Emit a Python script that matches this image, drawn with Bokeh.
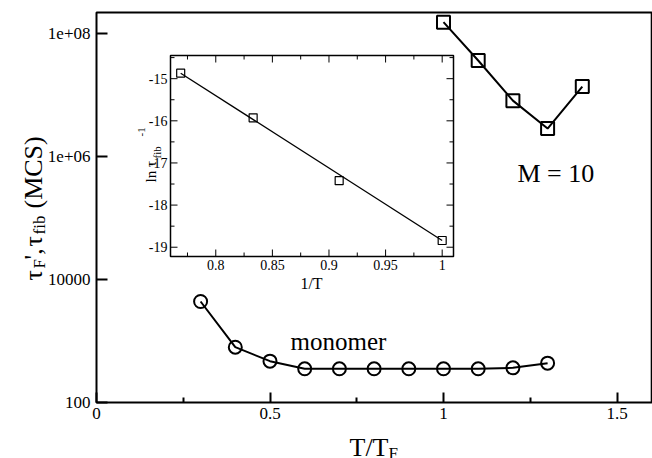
import numpy as np
from bokeh.plotting import figure
from bokeh.models import Range1d, FixedTicker, Label, LinearScale
from bokeh.core.properties import value
from bokeh.embed import file_html
from bokeh.resources import INLINE

# ---------------- data ----------------
temp_monomer = [0.3, 0.4, 0.5, 0.6, 0.7, 0.8, 0.9, 1.0, 1.1, 1.2, 1.3]
tau_monomer = [4390, 793, 470, 353, 353, 353, 353, 353, 353, 366, 436]

temp_m10 = [1.0, 1.1, 1.2, 1.3, 1.4]
tau_m10 = [1.53e8, 3.64e7, 8.1e6, 2.85e6, 1.37e7]

inv_T = [0.769, 0.833, 0.909, 1.0]
ln_inv_tau = [-14.87, -15.93, -17.42, -18.84]
fit_inv_T = [0.769, 1.0]
fit_ln_inv_tau = [-14.87, -18.84]

x_ticks = [0, 0.5, 1, 1.5]
x_tick_labels = ["0", "0.5", "1", "1.5"]
x_minor_ticks = [0.25, 0.75, 1.25]
y_ticks = [1e2, 1e4, 1e6, 1e8]
y_tick_labels = ["100", "10000", "1e+06", "1e+08"]

inset_x_ticks = [0.8, 0.85, 0.9, 0.95, 1.0]
inset_x_labels = ["0.8", "0.85", "0.9", "0.95", "1"]
inset_x_minor = [0.775, 0.825, 0.875, 0.925, 0.975]
inset_y_ticks = [-15, -16, -17, -18, -19]
inset_y_labels = ["-15", "-16", "-17", "-18", "-19"]
inset_y_minor = [-14.5, -15.5, -16.5, -17.5, -18.5]

# ---------------- geometry (canvas px) ----------------
W, H = 652, 458
PX0, PXU = 96.0, 347.0        # x=0 position, px per unit
PY100, PYD = 402.0, 61.5      # y=100 position, px per decade
box_x = (0.0, 1.6)
box_y = (100.0, 2.19e8)
IL, IR, IT, IB = 170, 453, 55, 256       # inset box
ix0, ix1 = 0.76, 1.01
iy0, iy1 = -19.22, -14.45
FONT = "Liberation Serif"

x_lo = -PX0 / PXU
x_hi = (W - PX0) / PXU
y_hi = 10 ** (2 + PY100 / PYD)
y_lo = 10 ** (2 - (H - PY100) / PYD)

p = figure(width=W, height=H, x_range=Range1d(x_lo, x_hi), y_range=Range1d(y_lo, y_hi),
           y_axis_type="log", output_backend="svg", toolbar_location=None,
           min_border=0, background_fill_color="white", border_fill_color="white")
p.xgrid.visible = False
p.ygrid.visible = False
p.outline_line_color = None

xa = p.xaxis[0]
xa.fixed_location = box_y[0]
xa.ticker = FixedTicker(ticks=x_ticks, minor_ticks=x_minor_ticks)
xa.major_label_overrides = {float(t): l for t, l in zip(x_ticks, x_tick_labels)}
ya = p.yaxis[0]
ya.fixed_location = box_x[0]
ya.ticker = FixedTicker(ticks=y_ticks, minor_ticks=[])
ya.major_label_overrides = {float(t): l for t, l in zip(y_ticks, y_tick_labels)}
for ax in (xa, ya):
    ax.axis_line_color = None
    ax.major_tick_line_width = 2
    ax.minor_tick_line_width = 2
    ax.major_tick_out = 0
    ax.minor_tick_out = 0
    ax.major_label_text_font = FONT
    ax.major_label_text_font_size = "17px"
    ax.major_label_text_color = "black"
xa.major_tick_in = 10
xa.minor_tick_in = 5
xa.major_label_standoff = 5
ya.major_tick_in = 11
ya.major_label_standoff = 6

# main frame box
p.quad(left=[box_x[0]], right=[box_x[1]], bottom=[box_y[0]], top=[box_y[1]],
       fill_color=None, line_color="black", line_width=2)

# ---------------- main data ----------------
p.line(temp_monomer, tau_monomer, line_color="black", line_width=2)
p.scatter(temp_monomer, tau_monomer, marker="circle", size=13, fill_color=None,
          line_color="black", line_width=2)
p.line(temp_m10, tau_m10, line_color="black", line_width=2)
p.scatter(temp_m10, tau_m10, marker="square", size=13, fill_color=None,
          line_color="black", line_width=2)

# ---------------- inset (own ranges mapped into a sub-rectangle) ----------------
kx = (ix1 - ix0) / (IR - IL)
ky = (iy1 - iy0) / (IB - IT)
p.extra_x_ranges = {"ix": Range1d(ix0 - IL * kx, ix1 + (W - IR) * kx)}
p.extra_y_ranges = {"iy": Range1d(iy0 - (H - IB) * ky, iy1 + IT * ky)}
p.extra_x_scales = {"ix": LinearScale()}
p.extra_y_scales = {"iy": LinearScale()}
R = dict(x_range_name="ix", y_range_name="iy")

p.quad(left=[ix0], right=[ix1], bottom=[iy0], top=[iy1], fill_color="white",
       line_color="black", line_width=1.5, **R)

MAJ, MIN = 7, 4
def xticks(vals, length):
    v = np.array(vals, dtype=float)
    p.segment(x0=v, x1=v, y0=np.full_like(v, iy0), y1=np.full_like(v, iy0 + length * ky),
              line_color="black", line_width=1, **R)
    p.segment(x0=v, x1=v, y0=np.full_like(v, iy1), y1=np.full_like(v, iy1 - length * ky),
              line_color="black", line_width=1, **R)

def yticks(vals, length):
    v = np.array(vals, dtype=float)
    p.segment(y0=v, y1=v, x0=np.full_like(v, ix0), x1=np.full_like(v, ix0 + length * kx),
              line_color="black", line_width=1, **R)
    p.segment(y0=v, y1=v, x0=np.full_like(v, ix1), x1=np.full_like(v, ix1 - length * kx),
              line_color="black", line_width=1, **R)

xticks(inset_x_ticks, MAJ)
xticks(inset_x_minor, MIN)
yticks(inset_y_ticks, MAJ)
yticks(inset_y_minor, MIN)

p.text(x=inset_x_ticks, y=[iy0] * len(inset_x_ticks), text=inset_x_labels,
       text_font=value(FONT), text_font_size="14px", text_align="center",
       text_baseline="top", y_offset=3, text_color="black", **R)
p.text(x=[ix0] * len(inset_y_ticks), y=inset_y_ticks, text=inset_y_labels,
       text_font=value(FONT), text_font_size="14px", text_align="right",
       text_baseline="middle", x_offset=-3, text_color="black", **R)

p.line(fit_inv_T, fit_ln_inv_tau, line_color="black", line_width=1.3, **R)
p.scatter(inv_T, ln_inv_tau, marker="square", size=8, fill_color=None,
          line_color="black", line_width=1.2, **R)

# ---------------- texts (screen units; frame == canvas) ----------------
def lab(text, px, py, size, angle=0.0, align="left", baseline="alphabetic"):
    p.add_layout(Label(x=px, y=H - py, x_units="screen", y_units="screen",
                       text=text, text_font=FONT, text_font_size=f"{size}px",
                       text_color="black", angle=angle, text_align=align,
                       text_baseline=baseline))

lab("monomer", 290, 341, 25)
lab("M = 10", 517, 173, 26)

# x axis title T/T_F
lab("T/T", 349, 447, 26)
lab("F", 388, 453, 17)

# y axis title  tau_F', tau_fib (MCS)  (rotated)
ROT = np.pi / 2
lab("\u03c4", 33, 280, 26, angle=ROT)
lab("F", 39, 268, 17, angle=ROT)
lab("',", 33, 259, 26, angle=ROT)
lab("\u03c4", 33, 246, 26, angle=ROT)
lab("fib", 39, 234, 17, angle=ROT)
lab("(MCS)", 33, 208, 26, angle=ROT)

# inset titles
lab("1/T", 311, 283, 16, align="center")
lab("ln \u03c4", 150, 182, 15, angle=ROT)
lab("fib", 156, 158, 11, angle=ROT)
lab("-1", 141, 136, 11, angle=ROT)

open("out.html", "w").write(file_html(p, INLINE))
